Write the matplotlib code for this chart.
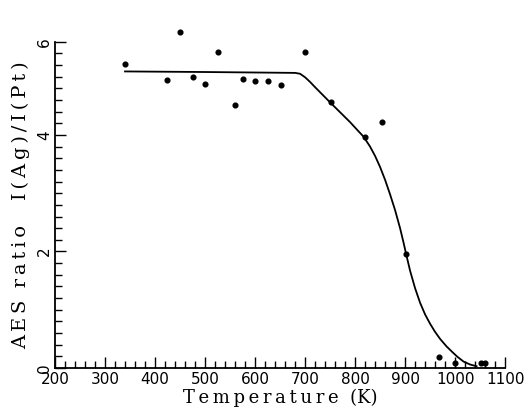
import numpy as np
import matplotlib
matplotlib.use("Agg")
import matplotlib.pyplot as plt
from matplotlib.ticker import MultipleLocator

# measured points
temp_pts = [340, 423, 450, 475, 500, 525, 559, 575, 600, 625, 651, 700, 751,
            819, 853, 902, 968, 1000, 1052, 1060]
ratio_pts = [5.21, 4.95, 5.76, 4.99, 4.88, 5.42, 4.52, 4.96, 4.92, 4.92, 4.86,
             5.42, 4.56, 3.97, 4.23, 1.96, 0.19, 0.08, 0.08, 0.08]

# fitted curve
temp_fit = [340, 500, 680, 690, 700, 710, 720, 735, 750, 770, 790, 805, 817,
            830, 840, 850, 860, 870, 880, 890, 897, 902, 910, 920, 930, 940,
            950, 960, 970, 983, 995, 1005, 1017, 1030, 1043]
ratio_fit = [5.09, 5.08, 5.065, 5.05, 4.99, 4.91, 4.82, 4.69, 4.56, 4.39, 4.22,
             4.08, 3.97, 3.80, 3.64, 3.45, 3.23, 2.98, 2.71, 2.40, 2.15, 1.96,
             1.67, 1.37, 1.12, 0.92, 0.76, 0.62, 0.50, 0.37, 0.27, 0.19, 0.11,
             0.06, 0.03]

x_ticks = [200, 300, 400, 500, 600, 700, 800, 900, 1000, 1100]
y_ticks = [0, 2, 4, 5.6]
y_labels = ["0", "2", "4", "6"]

fig = plt.figure(figsize=(5.30, 4.11), dpi=100)
ax = fig.add_axes([0.1038, 0.1046, 0.8492, 0.7939])

ax.plot(temp_fit, ratio_fit, color="black", lw=1.3)
ax.plot(temp_pts, ratio_pts, "o", color="black", ms=3.4, clip_on=False)

ax.set_xlim(200, 1100)
ax.set_ylim(0, 5.6)

ax.spines["top"].set_visible(False)
ax.spines["right"].set_visible(False)
ax.spines["left"].set_linewidth(1.3)
ax.spines["bottom"].set_linewidth(1.3)

ax.set_xticks(x_ticks)
ax.set_xticklabels([str(t) for t in x_ticks], fontsize=11, family="DejaVu Sans")
ax.xaxis.set_minor_locator(MultipleLocator(20))
ax.set_yticks(y_ticks)
ax.set_yticklabels(y_labels, fontsize=11, rotation=90, va="center",
                   family="DejaVu Sans")
ax.yaxis.set_minor_locator(MultipleLocator(0.2))

ax.tick_params(which="major", direction="in", length=8, width=1, pad=2)
ax.tick_params(which="minor", direction="in", length=5, width=1)
ax.tick_params(axis="x", which="major", pad=3)

sp = "\u2009"
ax.set_xlabel(sp.join("Temperature") + "  (K)", fontsize=13,
              family="DejaVu Serif", labelpad=1)
ax.set_ylabel(sp.join("AES") + "  " + sp.join("ratio") + "    "
              + sp.join("I(Ag)/I(Pt)"),
              fontsize=14, family="DejaVu Serif", labelpad=5)

fig.savefig("out.png", dpi=100)
